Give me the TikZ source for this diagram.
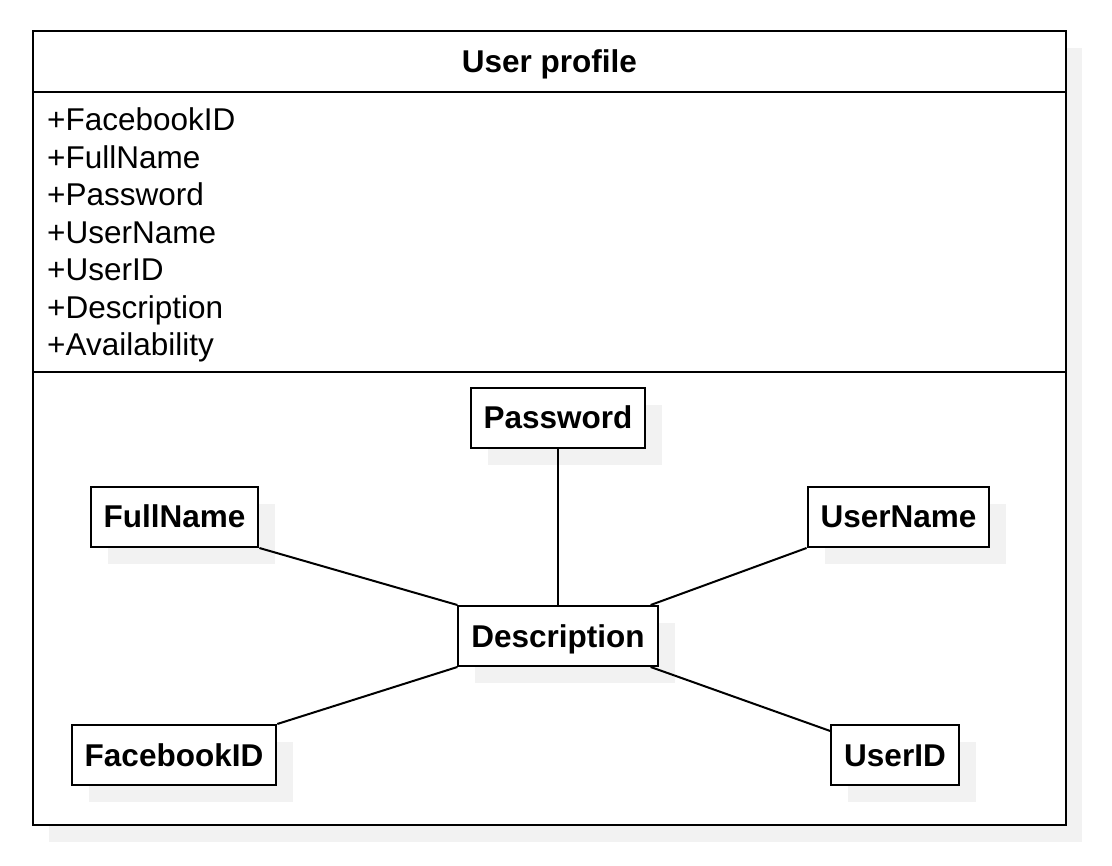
\documentclass[tikz,border=0pt]{standalone}
\usepackage{fontspec}
\setmainfont{Liberation Sans}
\usetikzlibrary{shapes, shadows, positioning}
\definecolor{shadowgray}{HTML}{F2F2F2}
\tikzstyle{classbox} = [rectangle, draw, line width=2pt, fill=white,
    minimum width=1033pt, minimum height=794pt,
    drop shadow={shadow xshift=16pt, shadow yshift=-17pt, fill=shadowgray, opacity=1}]
\tikzstyle{header} = [font=\fontsize{31.5}{37.5}\selectfont\bfseries, minimum height=62pt, inner sep=0pt,
    text height=22pt, text depth=0pt]
\tikzstyle{attr} = [font=\fontsize{31.5}{37.5}\selectfont, anchor=base west, inner sep=0pt]
\tikzstyle{field} = [rectangle, draw, line width=2pt, fill=white, text centered,
    font=\fontsize{31.5}{37.5}\selectfont\bfseries, minimum height=60pt, inner xsep=13pt,
    text height=22pt, text depth=0pt,
    drop shadow={shadow xshift=17pt, shadow yshift=-17pt, fill=shadowgray, opacity=1}]
\tikzstyle{line} = [draw, line width=2pt]
\begin{document}
\begin{tikzpicture}[x=1pt, y=-1pt]
      \useasboundingbox (0,0) rectangle (1112,866);
      % class box
      \node [classbox] (profile) at (549.5,428) {};
      \node [header, below=0pt of profile.north] (header) {User profile};
      \foreach \attr [count=\i from 0] in {FacebookID, FullName, Password, UserName, UserID, Description, Availability}
        \node [attr] (attr-\attr) at (47,131+37.5*\i) {+\attr};
      \path [line] (profile.west |- header.south) -- (profile.east |- header.south);
      \path [line] (profile.west |- 0,372) -- (profile.east |- 0,372);
      % fields
      \node [field] (description) at (558,636) {Description};
      \node [field, above=156pt of description] (password) {Password};
      \node [field] (fullname) at (174.5,517) {FullName};
      \node [field] (username) at (898.5,517) {UserName};
      \node [field] (facebookid) at (174,755) {FacebookID};
      \node [field] (userid) at (895,755) {UserID};
      % Draw edges
      \path [line] (password) -- (description);
      \path [line] (fullname.south east) -- (description.north west);
      \path [line] (facebookid.north east) -- (description.south west);
      \path [line] (username.south west) -- ([xshift=-8pt]description.north east);
      \path [line] ([xshift=-8pt]description.south east) -- ([yshift=-7pt]userid.north west);
\end{tikzpicture}
\end{document}
